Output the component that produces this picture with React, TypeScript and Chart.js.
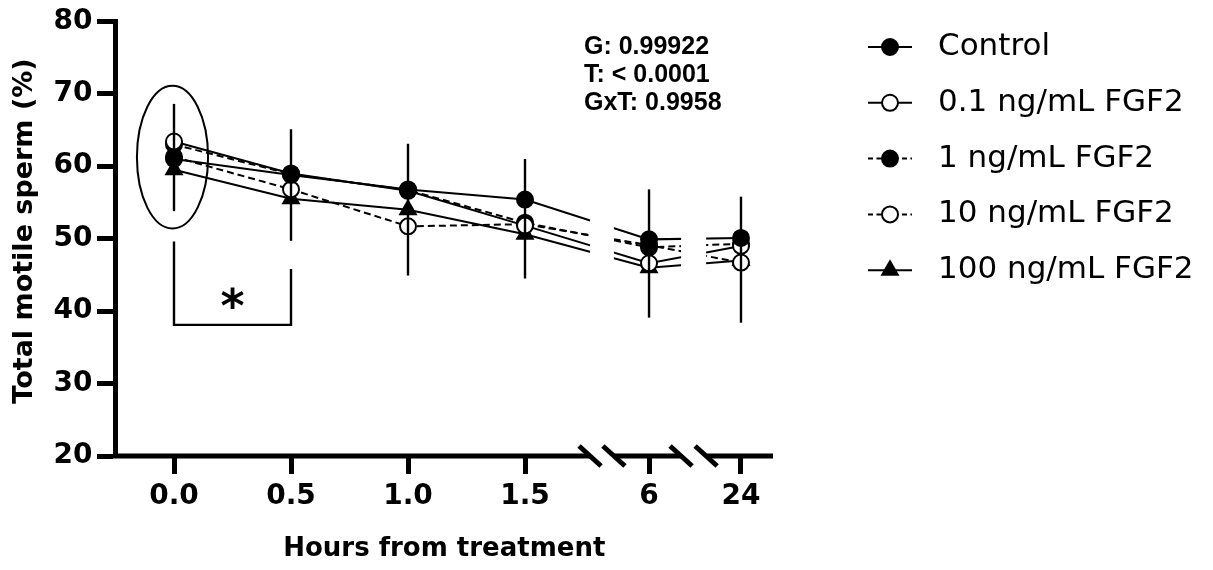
import React, { useEffect, useRef } from "react";
import { Chart, registerables } from "chart.js";

Chart.register(...registerables);

// Time points (hours after treatment) and their place on the broken x axis
const hourLabels = ["0.0", "0.5", "1.0", "1.5", "6", "24"];
const hourAxisPos = [0, 0.5, 1, 1.5, 2.03, 2.423];

const groupNames = ["Control", "0.1 ng/mL FGF2", "1 ng/mL FGF2", "10 ng/mL FGF2", "100 ng/mL FGF2"];

// Mean total motile sperm (%) per group
const controlMean = [61.0, 58.8, 56.8, 55.4, 49.9, 50.1];
const fgf2_01Mean = [63.4, 59.0, 56.6, 51.8, 46.6, 49.0];
const fgf2_1Mean = [63.0, 58.9, 56.7, 52.2, 48.8, 49.3];
const fgf2_10Mean = [61.3, 56.8, 51.7, 52.0, 49.1, 46.7];
const fgf2_100Mean = [59.5, 55.5, 54.0, 50.6, 46.0, 47.0];

// Error bar extent at each time point
const errUpper = [68.6, 65.1, 63.1, 61.0, 56.8, 55.8];
const errLower = [53.8, 49.7, 44.9, 44.5, 39.1, 38.4];

const yTickValues = [20, 30, 40, 50, 60, 70, 80];

const yTitle = "Total motile sperm (%)";
const xTitle = "Hours from treatment";
const statsLines = ["G: 0.99922", "T: < 0.0001", "GxT: 0.9958"];

const W = 1213;
const H = 570;
const WIDE = "'DejaVu Sans', sans-serif";
const ARIAL = "'Liberation Sans', sans-serif";

// Axis gaps (in axis units) between 1.5 h and 6 h, and between 6 h and 24 h
const axisBreaks: [number, number][] = [
  [1.778, 1.88],
  [2.167, 2.274],
];

type Style = { fill: string; dash: number[]; shape: "circle" | "triangle" };
const groupStyles: Style[] = [
  { fill: "#000", dash: [], shape: "circle" },
  { fill: "#fff", dash: [], shape: "circle" },
  { fill: "#000", dash: [7, 4], shape: "circle" },
  { fill: "#fff", dash: [7, 4], shape: "circle" },
  { fill: "#000", dash: [], shape: "triangle" },
];
const groupMeans = [controlMean, fgf2_01Mean, fgf2_1Mean, fgf2_10Mean, fgf2_100Mean];

function marker(ctx: CanvasRenderingContext2D, s: Style, x: number, y: number) {
  ctx.save();
  ctx.setLineDash([]);
  ctx.lineWidth = 2;
  ctx.strokeStyle = "#000";
  ctx.fillStyle = s.fill;
  ctx.beginPath();
  if (s.shape === "circle") {
    ctx.arc(x, y, 8, 0, Math.PI * 2);
  } else {
    const r = 9;
    for (let k = 0; k < 3; k++) {
      const a = (k * 2 * Math.PI) / 3;
      const px = x + Math.sin(a) * r;
      const py = y - Math.cos(a) * r;
      if (k === 0) ctx.moveTo(px, py);
      else ctx.lineTo(px, py);
    }
    ctx.closePath();
  }
  ctx.fill();
  ctx.stroke();
  ctx.restore();
}

const decorPlugin = {
  id: "decor",
  beforeDatasetsDraw(chart: any) {
    const { ctx, scales } = chart;
    const x = scales.x;
    ctx.save();
    ctx.beginPath();
    let start = 0;
    for (const [a, b] of axisBreaks) {
      const pa = x.getPixelForValue(a);
      const pb = x.getPixelForValue(b);
      ctx.rect(start, 0, pa - start, chart.height);
      start = pb;
    }
    ctx.rect(start, 0, chart.width - start, chart.height);
    ctx.clip();
  },
  afterDatasetsDraw(chart: any) {
    const { ctx, scales } = chart;
    const { x, y } = scales;
    ctx.restore();
    ctx.save();
    ctx.strokeStyle = "#000";
    ctx.lineWidth = 2.4;
    hourAxisPos.forEach((p, i) => {
      const px = x.getPixelForValue(p);
      ctx.beginPath();
      ctx.moveTo(px, y.getPixelForValue(errUpper[i]));
      ctx.lineTo(px, y.getPixelForValue(errLower[i]));
      ctx.stroke();
    });
    ctx.restore();
  },
  afterDraw(chart: any) {
    const { ctx, scales, chartArea } = chart;
    const { x, y } = scales;
    ctx.save();
    ctx.strokeStyle = "#000";
    ctx.fillStyle = "#000";

    // broken x axis line with break marks
    const yb = chartArea.bottom;
    ctx.lineWidth = 5;
    ctx.lineCap = "butt";
    let s = chartArea.left - 2.5;
    for (const [a, b] of axisBreaks) {
      const pa = x.getPixelForValue(a);
      const pb = x.getPixelForValue(b);
      ctx.beginPath();
      ctx.moveTo(s, yb);
      ctx.lineTo(pa, yb);
      ctx.stroke();
      for (const c of [pa, pb]) {
        ctx.beginPath();
        ctx.moveTo(c - 11, yb - 10);
        ctx.lineTo(c + 11, yb + 10);
        ctx.stroke();
      }
      s = pb;
    }
    ctx.beginPath();
    ctx.moveTo(s, yb);
    ctx.lineTo(chartArea.right, yb);
    ctx.stroke();

    // y axis title
    ctx.save();
    ctx.translate(24.5, 231);
    ctx.rotate(-Math.PI / 2);
    ctx.font = `bold 27px ${WIDE}`;
    ctx.textAlign = "center";
    ctx.textBaseline = "middle";
    ctx.fillText(yTitle, 0, 0);
    ctx.restore();

    // ellipse around the 0 h values
    const cx = x.getPixelForValue(hourAxisPos[0]) - 1.5;
    const cy = y.getPixelForValue(61.25);
    const rx = x.getPixelForValue(0.152) - x.getPixelForValue(0);
    const ry = y.getPixelForValue(51.4) - cy;
    ctx.lineWidth = 2;
    ctx.beginPath();
    ctx.ellipse(cx, cy, rx, ry, 0, 0, Math.PI * 2);
    ctx.stroke();

    // significance bracket between 0 h and 0.5 h
    const bx0 = x.getPixelForValue(hourAxisPos[0]);
    const bx1 = x.getPixelForValue(hourAxisPos[1]);
    ctx.lineWidth = 2.4;
    ctx.beginPath();
    ctx.moveTo(bx0, y.getPixelForValue(49.6));
    ctx.lineTo(bx0, y.getPixelForValue(38.1));
    ctx.lineTo(bx1, y.getPixelForValue(38.1));
    ctx.lineTo(bx1, y.getPixelForValue(45.8));
    ctx.stroke();
    ctx.font = `bold 46px ${WIDE}`;
    ctx.textAlign = "center";
    ctx.textBaseline = "alphabetic";
    const m = ctx.measureText("*");
    const starY = y.getPixelForValue(41.8) + (m.actualBoundingBoxAscent - m.actualBoundingBoxDescent) / 2;
    ctx.fillText("*", (bx0 + bx1) / 2, starY);

    // two-way ANOVA results
    ctx.font = `bold 25px ${ARIAL}`;
    ctx.textAlign = "left";
    ctx.textBaseline = "middle";
    const sx = x.getPixelForValue(1.752);
    const sy = y.getPixelForValue(76.4);
    statsLines.forEach((t, i) => ctx.fillText(t, sx, sy + i * 28));

    // legend
    ctx.font = `31px ${WIDE}`;
    groupNames.forEach((name, i) => {
      const ly = 47 + i * 55.8;
      const st = groupStyles[i];
      ctx.save();
      ctx.lineWidth = 2;
      ctx.setLineDash(st.dash.length ? [5, 3.5] : []);
      ctx.beginPath();
      ctx.moveTo(868, ly);
      ctx.lineTo(912, ly);
      ctx.stroke();
      ctx.restore();
      marker(ctx, st, 890, ly);
      ctx.fillStyle = "#000";
      ctx.textAlign = "left";
      ctx.textBaseline = "middle";
      ctx.fillText(name, 938, ly);
    });
    ctx.restore();
  },
};

export default function App() {
  const ref = useRef<HTMLCanvasElement | null>(null);
  useEffect(() => {
    const canvas = ref.current;
    if (!canvas) return;
    const xMin = -0.25;
    const xMax = 2.5598;
    const chart = new Chart(canvas, {
      type: "line",
      data: {
        datasets: groupNames.map((name, gi) => ({
          label: name,
          data: groupMeans[gi].map((v, i) => ({ x: hourAxisPos[i], y: v })),
          borderColor: "#000",
          borderWidth: 2,
          borderDash: groupStyles[gi].dash,
          pointStyle: groupStyles[gi].shape,
          pointRadius: groupStyles[gi].shape === "triangle" ? 9 : 8,
          pointBorderWidth: 2,
          pointBorderColor: "#000",
          pointBackgroundColor: groupStyles[gi].fill,
          fill: false,
          tension: 0,
        })),
      },
      options: {
        animation: false,
        responsive: true,
        maintainAspectRatio: false,
        devicePixelRatio: 1,
        layout: { padding: { top: 18, right: W - 773, bottom: 0, left: 0 } },
        plugins: { legend: { display: false }, tooltip: { enabled: false } },
        scales: {
          x: {
            type: "linear",
            min: xMin,
            max: xMax,
            bounds: "data",
            afterBuildTicks: (sc: any) => {
              sc.ticks = hourAxisPos.map((v) => ({ value: v }));
            },
            afterFit: (sc: any) => {
              sc.height = H - 456;
            },
            ticks: {
              autoSkip: false,
              maxRotation: 0,
              padding: 6,
              color: "#000",
              font: { family: WIDE, size: 28, weight: "bold" },
              callback: (_v: any, i: number) => hourLabels[i],
            },
            grid: {
              display: true,
              drawOnChartArea: false,
              drawTicks: true,
              tickLength: 18,
              tickWidth: 5,
              tickColor: "#000",
            },
            border: { display: false },
            title: {
              display: true,
              text: xTitle,
              color: "#000",
              font: { family: WIDE, size: 26, weight: "bold" },
              padding: { top: 0, bottom: 5 },
            },
          },
          y: {
            min: 20,
            max: 80,
            afterBuildTicks: (sc: any) => {
              sc.ticks = yTickValues.map((v) => ({ value: v }));
            },
            afterFit: (sc: any) => {
              sc.width = 115.5;
            },
            ticks: {
              padding: 4.5,
              color: "#000",
              font: { family: WIDE, size: 28, weight: "bold" },
            },
            grid: {
              display: true,
              drawOnChartArea: false,
              drawTicks: true,
              tickLength: 18.5,
              tickWidth: 5,
              tickColor: "#000",
            },
            border: { display: true, width: 5, color: "#000" },
            title: { display: false },
          },
        },
      },
      plugins: [decorPlugin],
    } as any);
    return () => chart.destroy();
  }, []);
  return (
    <div style={{ position: "absolute", left: 0, top: 0, width: W, height: H }}>
      <canvas ref={ref} />
    </div>
  );
}
